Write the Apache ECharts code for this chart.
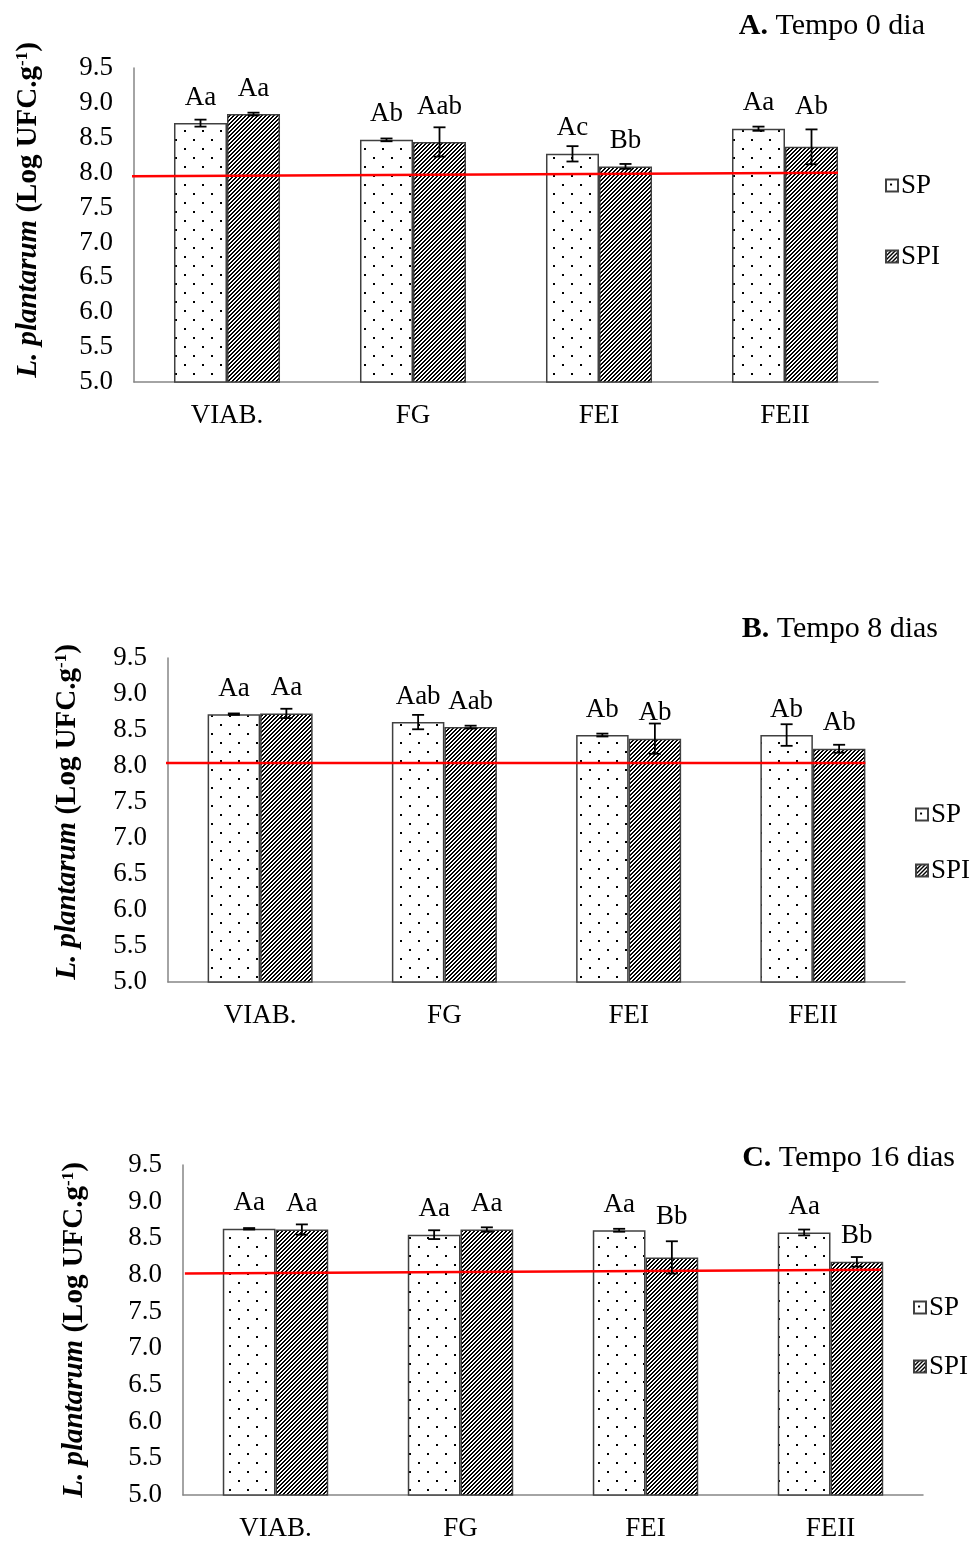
<!DOCTYPE html>
<html><head><meta charset="utf-8">
<script src="https://cdn.jsdelivr.net/npm/echarts@6.0.0/dist/echarts.min.js"></script>
<style>html,body{margin:0;padding:0;background:#fff}#c{width:971px;height:1542px}</style>
</head><body><div id="c"></div>
<script>
// ---------- DATA ----------
const categories = ['VIAB.', 'FG', 'FEI', 'FEII'];
const seriesNames = ['SP', 'SPI'];
const yMin = 5.0, yMax = 9.5, yStep = 0.5;
const yAxisName = ['L. plantarum', '(Log UFC.g', '-1', ')'];

const titleBold = ['A.', 'B.', 'C.'];
const titleText = ['Tempo 0 dia', 'Tempo 8 dias', 'Tempo 16 dias'];

// Panel A - Tempo 0 dia
const spA = [8.71, 8.47, 8.27, 8.63];
const spiA = [8.84, 8.44, 8.09, 8.37];
const spErrA = [0.05, 0.02, 0.11, 0.03];
const spiErrA = [0.02, 0.21, 0.035, 0.25];
const spLetA = ['Aa', 'Ab', 'Ac', 'Aa'];
const spiLetA = ['Aa', 'Aab', 'Bb', 'Ab'];
const refA = [7.95, 8.00];

// Panel B - Tempo 8 dias
const spB = [8.72, 8.61, 8.43, 8.43];
const spiB = [8.73, 8.54, 8.38, 8.24];
const spErrB = [0.01, 0.10, 0.02, 0.15];
const spiErrB = [0.065, 0.02, 0.21, 0.055];
const spLetB = ['Aa', 'Aab', 'Ab', 'Ab'];
const spiLetB = ['Aa', 'Aab', 'Ab', 'Ab'];
const refB = [8.04, 8.04];

// Panel C - Tempo 16 dias
const spC = [8.63, 8.55, 8.61, 8.58];
const spiC = [8.62, 8.62, 8.24, 8.18];
const spErrC = [0.01, 0.06, 0.02, 0.04];
const spiErrC = [0.07, 0.03, 0.22, 0.065];
const spLetC = ['Aa', 'Aa', 'Aa', 'Aa'];
const spiLetC = ['Aa', 'Aa', 'Bb', 'Bb'];
const refC = [8.02, 8.07];

// ---------- LAYOUT / STYLE ----------
const FONT = 'Liberation Serif, Times New Roman, serif';
const FS = 27;
const panels = [
  {sp: spA, spi: spiA, spErr: spErrA, spiErr: spiErrA, spLet: spLetA, spiLet: spiLetA, ref: refA,
   grid: {left: 134, top: 68, width: 744, height: 314}, refX: [-0.52, 3.285],
   nameGap: 90, namePad: 30, legend: {left: 880, top: 167, itemGap: 44}, title: {right: 41, top: 6},
   lift: {spi: {1: 22, 3: 26}}},
  {sp: spB, spi: spiB, spErr: spErrB, spiErr: spiErrB, spLet: spLetB, spiLet: spiLetB, ref: refB,
   grid: {left: 168, top: 658, width: 737, height: 324}, refX: [-0.87, 3.285],
   nameGap: 85, namePad: 16, legend: {left: 910, top: 796, itemGap: 29}, title: {right: 28, top: 609},
   lift: {}},
  {sp: spC, spi: spiC, spErr: spErrC, spiErr: spiErrC, spLet: spLetC, spiLet: spiLetC, ref: refC,
   grid: {left: 183, top: 1165, width: 740, height: 331}, refX: [-0.49, 3.273],
   nameGap: 93, namePad: 0, legend: {left: 908, top: 1289, itemGap: 32}, title: {right: 11, top: 1138},
   lift: {spi: {2: 27}}}
];

function dotPattern() {
  const c = document.createElement('canvas'); c.width = 18; c.height = 18;
  const g = c.getContext('2d');
  g.fillStyle = '#fff'; g.fillRect(0, 0, 18, 18);
  g.fillStyle = '#000';
  g.fillRect(4, 4, 2, 2); g.fillRect(13, 13, 2, 2);
  return c;
}
function hatchPattern() {
  const c = document.createElement('canvas'); c.width = 8; c.height = 8;
  const g = c.getContext('2d');
  const img = g.createImageData(8, 8);
  for (let y = 0; y < 8; y++) for (let x = 0; x < 8; x++) {
    const k = (y * 8 + x) * 4;
    const on = ((x + y) % 4) < 2;
    const v = on ? 0 : 255;
    img.data[k] = v; img.data[k + 1] = v; img.data[k + 2] = v; img.data[k + 3] = 255;
  }
  g.putImageData(img, 0, 0);
  return c;
}
const fills = [{image: dotPattern(), repeat: 'repeat'}, {image: hatchPattern(), repeat: 'repeat'}];

const BAND_GAP = 0.43;
const half = (1 - BAND_GAP) / 4; // center offset of each bar, in band units

const option = {
  animation: false,
  backgroundColor: '#fff',
  textStyle: {fontFamily: FONT, color: '#000'},
  title: [], grid: [], xAxis: [], yAxis: [], legend: [], series: []
};

panels.forEach((p, k) => {
  option.title.push({
    text: '{b|' + titleBold[k] + '} ' + titleText[k],
    right: p.title.right, top: p.title.top,
    textStyle: {fontFamily: FONT, fontSize: 30, fontWeight: 'normal', color: '#000',
      rich: {b: {fontFamily: FONT, fontSize: 30, fontWeight: 'bold', color: '#000'}}}
  });
  option.grid.push(Object.assign({containLabel: false}, p.grid));
  option.xAxis.push({
    type: 'category', gridIndex: k, data: categories,
    axisLine: {onZero: false, lineStyle: {color: '#868686', width: 1.5}},
    axisTick: {show: false},
    axisLabel: {fontFamily: FONT, fontSize: FS, color: '#000', margin: 20}
  });
  option.xAxis.push({type: 'value', gridIndex: k, min: -0.5, max: 3.5, show: false,
    axisLine: {show: false, onZero: false}});
  option.yAxis.push({
    type: 'value', gridIndex: k, min: yMin, max: yMax, interval: yStep,
    axisLine: {show: true, onZero: false, lineStyle: {color: '#868686', width: 1.5}},
    axisTick: {show: false}, splitLine: {show: false},
    axisLabel: {fontFamily: FONT, fontSize: FS, color: '#000', margin: 21,
      formatter: v => v.toFixed(1)},
    name: '{i|' + yAxisName[0] + '} {b|' + yAxisName[1] + '}{s|' + yAxisName[2] + '}{b|' + yAxisName[3] + '}',
    nameLocation: 'middle', nameRotate: 90, nameGap: p.nameGap,
    nameTextStyle: {fontFamily: FONT, fontSize: 29, fontWeight: 'bold', color: '#000',
      padding: [0, 0, 0, p.namePad],
      rich: {
        i: {fontFamily: FONT, fontSize: 29, fontWeight: 'bold', fontStyle: 'italic', color: '#000'},
        b: {fontFamily: FONT, fontSize: 29, fontWeight: 'bold', color: '#000'},
        s: {fontFamily: FONT, fontSize: 17, fontWeight: 'bold', color: '#000', verticalAlign: 'top', padding: [0, 0, 13, 0]}
      }}
  });
  option.legend.push({
    data: seriesNames, orient: 'vertical', left: p.legend.left, top: p.legend.top,
    itemGap: p.legend.itemGap, itemWidth: 12, itemHeight: 12, icon: 'rect',
    selectedMode: false,
    textStyle: {fontFamily: FONT, fontSize: FS, color: '#000', padding: [0, 0, 0, -2]}
  });

  const vals = [p.sp, p.spi], errs = [p.spErr, p.spiErr], lets = [p.spLet, p.spiLet];
  const liftKeys = ['sp', 'spi'];
  [0, 1].forEach(s => {
    const lift = p.lift[liftKeys[s]] || {};
    option.series.push({
      type: 'bar', name: seriesNames[s], xAxisIndex: 2 * k, yAxisIndex: k,
      barGap: '0%', barCategoryGap: (BAND_GAP * 100) + '%', z: 2,
      itemStyle: {color: fills[s], borderColor: '#404040', borderWidth: 1.5},
      label: {show: true, position: 'top', distance: 12, fontFamily: FONT, fontSize: FS, color: '#000',
        formatter: (q) => lets[s][q.dataIndex]},
      data: vals[s].map((v, i) => lift[i] ? {value: v, label: {distance: lift[i]}} : v)
    });
  });
  [0, 1].forEach(s => {
    const side = s === 0 ? -1 : 1;
    option.series.push({
      type: 'custom', xAxisIndex: 2 * k, yAxisIndex: k, z: 5, silent: true,
      renderItem: (params, api) => {
        const i = api.value(0), v = api.value(1), e = api.value(2);
        const band = api.size([1, 0])[0];
        const x = api.coord([i, v])[0] + side * band * half;
        const top = api.coord([i, v + e])[1], bot = api.coord([i, v - e])[1];
        const cap = 6, st = {stroke: '#000', lineWidth: 1.8};
        return {type: 'group', children: [
          {type: 'line', shape: {x1: x, y1: top, x2: x, y2: bot}, style: st},
          {type: 'line', shape: {x1: x - cap, y1: top, x2: x + cap, y2: top}, style: st},
          {type: 'line', shape: {x1: x - cap, y1: bot, x2: x + cap, y2: bot}, style: st}
        ]};
      },
      data: vals[s].map((v, i) => [i, v, errs[s][i]])
    });
  });
  option.series.push({
    type: 'line', xAxisIndex: 2 * k + 1, yAxisIndex: k, z: 4, clip: false, silent: true,
    symbol: 'none', lineStyle: {color: '#ff0000', width: 2.5},
    data: [[p.refX[0], p.ref[0]], [p.refX[1], p.ref[1]]]
  });
});

const chart = echarts.init(document.getElementById('c'), null, {renderer: 'canvas'});
chart.setOption(option);
</script>
</body></html>
